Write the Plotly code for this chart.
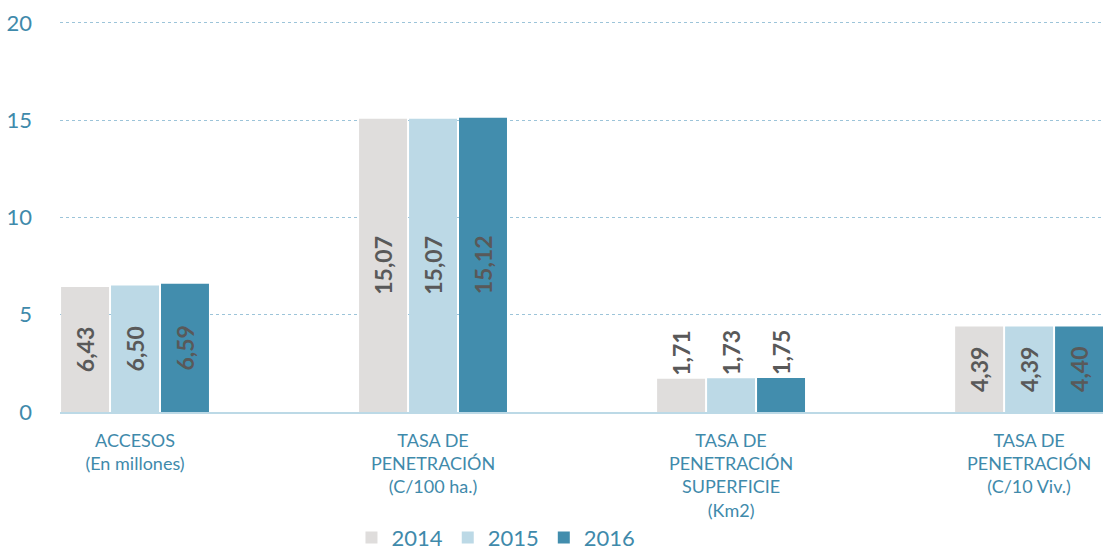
import plotly.graph_objects as go

categories = ["ACCESOS<br>(En millones)", "TASA DE<br>PENETRACIÓN<br>(C/100 ha.)",
              "TASA DE<br>PENETRACIÓN<br>SUPERFICIE<br>(Km2)", "TASA DE<br>PENETRACIÓN<br>(C/10 Viv.)"]
years = ["2014", "2015", "2016"]
v2014 = [6.43, 15.07, 1.71, 4.39]
v2015 = [6.50, 15.07, 1.73, 4.39]
v2016 = [6.59, 15.12, 1.75, 4.40]
colors = ["#dfdddc", "#bcd9e6", "#428dad"]
y_ticks = [0, 5, 10, 15, 20]

xpos = list(range(len(categories)))
fig = go.Figure()
for name, vals, col in zip(years, [v2014, v2015, v2016], colors):
    fig.add_trace(go.Bar(
        x=xpos, y=vals, name=name, marker=dict(color=col, line=dict(width=0)),
        text=[f"{v:.2f}".replace(".", ",") for v in vals],
        textposition=["inside", "inside", "outside", "inside"],
        insidetextanchor="middle", textangle=-90,
        textfont=dict(family="Lato", size=23, color="#595959", weight="bold"),
        cliponaxis=False,
    ))

fig.update_layout(
    width=1103, height=553,
    margin=dict(l=60, r=0, t=17, b=141, autoexpand=False),
    barmode="group", bargap=0.497, bargroupgap=0.04,
    plot_bgcolor="white", paper_bgcolor="white",
    font=dict(family="Lato", color="#3f8aab"),
    uniformtext=dict(mode=False),
    legend=dict(orientation="h", x=0.418, xanchor="center", y=-0.318, yanchor="middle",
                font=dict(size=22, color="#3f8aab"), itemwidth=30, traceorder="normal"),
)
fig.update_xaxes(
    tickmode="array", tickvals=xpos, ticktext=categories, automargin=False,
    range=[-0.2517, 3.248], showgrid=False, showline=True, linecolor="#bcd9e6", linewidth=2,
    tickfont=dict(size=18, color="#3f8aab"), ticks="", ticklabelstandoff=11,
)
fig.update_yaxes(
    range=[0, 20.3], tickvals=y_ticks, showgrid=True, gridcolor="#9cc4d9", griddash="dot",
    gridwidth=1, zeroline=False, tickfont=dict(size=22, color="#3f8aab"), automargin=False,
    ticklabelstandoff=27,
)
fig.write_html("out.html", config={"displayModeBar": False},
               post_script="document.body.style.margin='0';document.body.style.overflow='hidden';")
